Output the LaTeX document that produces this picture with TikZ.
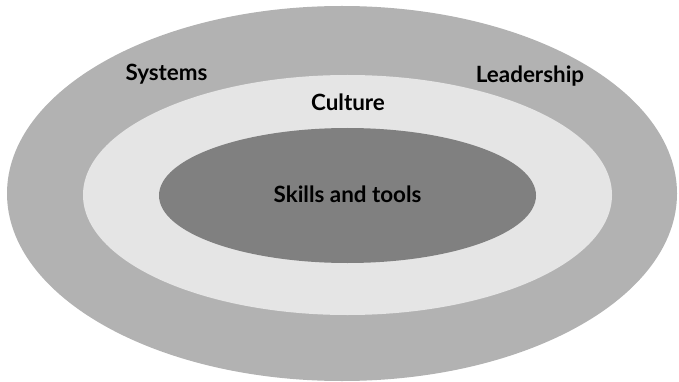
\documentclass[tikz,border=0pt]{standalone}
\usepackage{fontspec}
\setmainfont{Lato}
\usetikzlibrary{positioning}

\begin{document}
\begin{tikzpicture}[x=1pt,y=-1pt]
  \tikzstyle{ring label}=[font={\fontsize{22.4}{26}\selectfont\bfseries},text=black,inner sep=0]
  \useasboundingbox (0,0) rectangle (679,382);
  % three layers, outer to inner
  \fill[black!30] (342,193.5) ellipse [x radius=335, y radius=187.5];
  \fill[black!10] (347.5,195) ellipse [x radius=264.5, y radius=120];
  \fill[black!50] (347.5,195.5) ellipse [x radius=188.5, y radius=67.5];
  \node(skills)[ring label] at (347.5,194) {Skills and tools};
  \node(culture)[ring label] at (348,102) {Culture};
  \node(systems)[ring label] at (166.5,74) {Systems};
  \node(leadership)[ring label] at (530,76) {Leadership};
\end{tikzpicture}
\end{document}
